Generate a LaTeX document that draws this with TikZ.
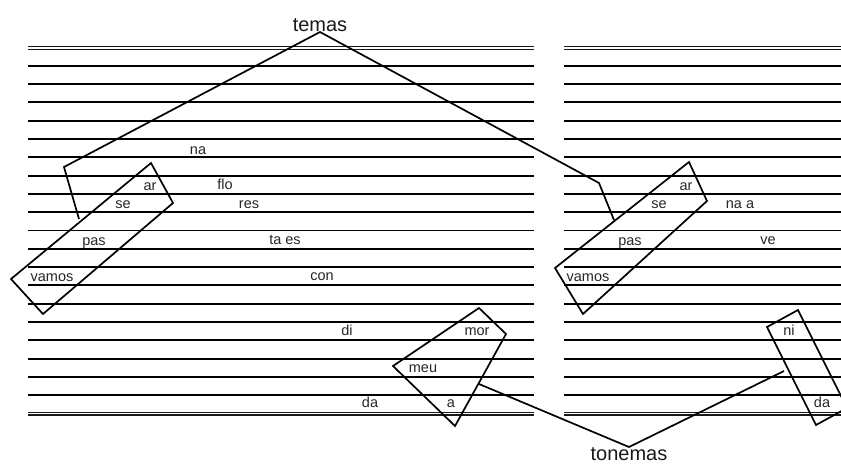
\documentclass[tikz,border=0pt]{standalone}
\usepackage{fontspec}
\setmainfont{Liberation Sans}

\tikzset{
  syl/.style={font=\fontsize{14.5}{16}\selectfont, text=black!85, inner sep=0pt, text height=1ex, text depth=0pt, yshift=-2pt},
  tag/.style={font=\fontsize{20}{22}\selectfont, text=black!90, inner sep=0pt},
  staff/.style={line width=1.9pt, black},
  rim/.style={line width=1.3pt, black!90},
  grp/.style={line width=1.7pt, black, line join=miter},
}

\begin{document}
\begin{tikzpicture}[x=1pt,y=-1pt]
  \useasboundingbox (0,0) rectangle (841,467);

  % staves: 21 lines, first and last doubled
  \foreach \i in {1,...,19}{
    \draw[staff] (28,{47.5+18.3*\i}) -- (534,{47.5+18.3*\i});
    \draw[staff] (564,{47.5+18.3*\i}) -- (841,{47.5+18.3*\i});
  }
  \foreach \y in {46.4,49.2,412.3,415.1}{
    \draw[rim] (28,\y) -- (534,\y);
    \draw[rim] (564,\y) -- (841,\y);
  }

  % syllables, first stanza
  \node[syl] (Lna)    at (198,150) {na};
  \node[syl] (Lar)    at (150,186) {ar};
  \node[syl] (Lflo)   at (225,185) {flo};
  \node[syl] (Lse)    at (123,204) {se};
  \node[syl] (Lres)   at (249,204) {res};
  \node[syl] (Lpas)   at (94,241)  {pas};
  \node[syl] (Ltaes)  at (285,240) {ta es};
  \node[syl] (Lvamos) at (52,277)  {vamos};
  \node[syl] (Lcon)   at (322,276) {con};
  \node[syl] (Ldi)    at (347,331) {di};
  \node[syl] (Lmor)   at (477,331) {mor};
  \node[syl] (Lmeu)   at (423,368) {meu};
  \node[syl] (Lda)    at (370,403) {da};
  \node[syl] (La)     at (451,403) {a};

  % syllables, second stanza
  \node[syl] (Rar)    at (686,186) {ar};
  \node[syl] (Rse)    at (659,204) {se};
  \node[syl] (Rnaa)   at (740,204) {na a};
  \node[syl] (Rpas)   at (630,241) {pas};
  \node[syl] (Rve)    at (768,240) {ve};
  \node[syl] (Rvamos) at (588,277) {vamos};
  \node[syl] (Rni)    at (789,331) {ni};
  \node[syl] (Rda)    at (822,403) {da};

  % groups
  \draw[grp] (151,163) -- (173,203) -- (43,314) -- (11,279) -- cycle;
  \draw[grp] (689,162) -- (707,201) -- (583,314) -- (555,268) -- cycle;
  \draw[grp] (479,308) -- (506,334) -- (455,426) -- (393,366) -- cycle;
  \draw[grp] (767,327) -- (798,310) -- (847,408) -- (816,425) -- cycle;

  % labels and their connectors
  \node[tag, anchor=south] (temas) at (320,32) {temas};
  \node[tag, anchor=north] (tonemas) at (629,447) {tonemas};

  \coordinate (temasL) at (79,219);
  \coordinate (temasLk) at (64,167);
  \coordinate (temasR) at (614,220);
  \coordinate (temasRk) at (599,183);
  \coordinate (tonL) at (479,384);
  \coordinate (tonR) at (784,371);

  \draw[grp] (temasL) -- (temasLk) -- (temas.south) -- (temasRk) -- (temasR);
  \draw[grp] (tonL) -- (tonemas.north) -- (tonR);
\end{tikzpicture}
\end{document}
